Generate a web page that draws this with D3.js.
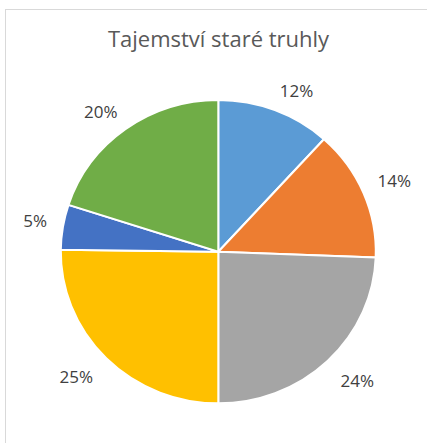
<!DOCTYPE html>
<html>
<head>
<meta charset="utf-8">
<script src="https://cdn.jsdelivr.net/npm/d3@7"></script>
<style>
  html, body { margin: 0; padding: 0; background: #fff; }
  svg { display: block; }
</style>
</head>
<body>
<script>
const title = "Tajemství staré truhly";
const categories = ["A", "B", "C", "D", "E", "F"];
const values = [11.7, 13.9, 24.4, 25.2, 4.8, 20.0];
const colors = ["#5B9BD5", "#ED7D31", "#A5A5A5", "#FFC000", "#4472C4", "#70AD47"];

const W = 427, H = 443;
const cx = 218.3, cy = 251.7, R = 157.5, yScale = 0.963;

const svg = d3.select("body").append("svg").attr("width", W).attr("height", H);

// chart area border
svg.append("rect")
  .attr("x", 5.5).attr("y", 9.5)
  .attr("width", 440).attr("height", 460)
  .attr("fill", "#fff").attr("stroke", "#d9d9d9").attr("stroke-width", 1);

svg.append("text")
  .attr("x", 218.5).attr("y", 46.7)
  .attr("text-anchor", "middle")
  .attr("font-family", "Open Sans, sans-serif")
  .attr("font-size", 22)
  .attr("fill", "#595959")
  .text(title);

const total = d3.sum(values);
const pie = d3.pie().sort(null).value(d => d)(values);
const arc = d3.arc().innerRadius(0).outerRadius(R);

const g = svg.append("g").attr("transform", `translate(${cx},${cy}) scale(1,${yScale})`);
g.selectAll("path").data(pie).join("path")
  .attr("d", arc)
  .attr("fill", (d, i) => colors[i])
  .attr("stroke", "#fff")
  .attr("stroke-width", 2)
  .attr("vector-effect", "non-scaling-stroke");

const lg = svg.append("g").attr("transform", `translate(${cx},${cy})`);
lg.selectAll("text").data(pie).join("text")
  .attr("text-anchor", "middle")
  .attr("font-family", "Open Sans, sans-serif")
  .attr("font-size", 17)
  .attr("fill", "#404040")
  .attr("dy", "0.36em")
  .text(d => Math.round(d.value / total * 100) + "%")
  .each(function(d) {
    const a = (d.startAngle + d.endAngle) / 2;
    const s = Math.sin(a), c = Math.cos(a);
    const hw = this.getBBox().width / 2, hh = 6.5;
    const D = 174 - 3 * c;
    const px = s * D, py = -c * D * yScale;
    const clamp = v => Math.max(-1, Math.min(1, v));
    d3.select(this)
      .attr("x", px + clamp(s * 3) * hw)
      .attr("y", py - clamp(c * 3) * hh);
  });
</script>
</body>
</html>
